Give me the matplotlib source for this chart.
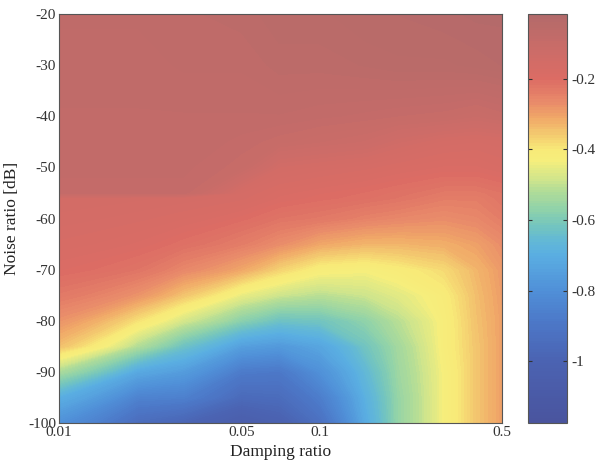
import numpy as np
import matplotlib
matplotlib.use("Agg")
import matplotlib.pyplot as plt
from matplotlib.colors import LinearSegmentedColormap

plt.rcParams['font.family'] = ['Liberation Serif', 'DejaVu Serif']
plt.rcParams['axes.unicode_minus'] = False

# damping ratio (x) and noise ratio in dB (y) sample grid
damping = [0.01, 0.02, 0.03, 0.05, 0.07, 0.1, 0.15, 0.2, 0.3, 0.4, 0.5]
noise_db = [-100, -95, -90, -85, -80, -75, -70, -65, -60, -56, -55, -50, -45, -40, -30, -20]

# one column per damping value, bottom (-100 dB) to top (-20 dB)
col_001 = [-0.80, -0.70, -0.53, -0.345, -0.28, -0.23, -0.195, -0.175, -0.16, -0.15, -0.09, -0.085, -0.08, -0.08, -0.075, -0.07]
col_002 = [-0.95, -0.85, -0.72, -0.52, -0.39, -0.28, -0.22, -0.19, -0.17, -0.155, -0.09, -0.085, -0.08, -0.08, -0.075, -0.07]
col_003 = [-0.99, -0.86, -0.76, -0.63, -0.48, -0.35, -0.26, -0.21, -0.18, -0.16, -0.09, -0.085, -0.08, -0.08, -0.07, -0.065]
col_005 = [-1.06, -0.96, -0.88, -0.75, -0.58, -0.45, -0.31, -0.24, -0.20, -0.17, -0.165, -0.10, -0.09, -0.08, -0.07, -0.06]
col_007 = [-1.02, -0.95, -0.89, -0.77, -0.63, -0.49, -0.37, -0.27, -0.22, -0.19, -0.185, -0.15, -0.10, -0.08, -0.06, -0.05]
col_010 = [-0.93, -0.87, -0.80, -0.73, -0.62, -0.51, -0.42, -0.31, -0.23, -0.20, -0.195, -0.16, -0.11, -0.085, -0.06, -0.05]
col_015 = [-0.71, -0.69, -0.66, -0.62, -0.57, -0.49, -0.43, -0.33, -0.25, -0.21, -0.205, -0.17, -0.12, -0.09, -0.055, -0.04]
col_020 = [-0.56, -0.56, -0.55, -0.54, -0.51, -0.46, -0.41, -0.33, -0.26, -0.22, -0.215, -0.18, -0.14, -0.095, -0.05, -0.04]
col_030 = [-0.43, -0.43, -0.43, -0.42, -0.42, -0.41, -0.38, -0.32, -0.27, -0.24, -0.23, -0.19, -0.16, -0.10, -0.05, -0.035]
col_040 = [-0.35, -0.35, -0.35, -0.35, -0.345, -0.34, -0.33, -0.30, -0.26, -0.24, -0.23, -0.19, -0.165, -0.11, -0.045, -0.03]
col_050 = [-0.30, -0.30, -0.30, -0.30, -0.30, -0.295, -0.29, -0.27, -0.24, -0.22, -0.22, -0.18, -0.16, -0.10, -0.04, -0.03]

cbar_ticks = [-1, -0.8, -0.6, -0.4, -0.2]
cbar_labels = ['-1', '-0.8', '-0.6', '-0.4', '-0.2']
x_ticks = [0.01, 0.05, 0.1, 0.5]
x_labels = ['0.01', '0.05', '0.1', '0.5']
y_ticks = [-100, -90, -80, -70, -60, -50, -40, -30, -20]

vmin, vmax = -1.175, -0.017

Z = np.array([col_001, col_002, col_003, col_005, col_007, col_010,
              col_015, col_020, col_030, col_040, col_050]).T
X, Y = np.meshgrid(damping, noise_db)

# muted blue-yellow-red map as it looks in the scan
anchors = [(-1.175, '#4a549e'), (-1.0, '#4b63b2'), (-0.89, '#4c78c8'),
           (-0.8, '#5090d8'), (-0.70, '#5aaee2'), (-0.66, '#62b8d6'),
           (-0.62, '#72c4c0'), (-0.57, '#90d2aa'), (-0.52, '#b0dc98'),
           (-0.48, '#d4e68a'), (-0.43, '#f6ee7c'), (-0.40, '#f8ea78'),
           (-0.36, '#f4cc70'), (-0.31, '#f0a868'), (-0.26, '#e8886a'),
           (-0.20, '#dc6c64'), (-0.12, '#cc6c68'), (-0.017, '#b26a6a')]
cmap = LinearSegmentedColormap.from_list(
    'scan', [((v - vmin) / (vmax - vmin), c) for v, c in anchors])

fig = plt.figure(figsize=(5.97, 4.72), dpi=100)
ax = fig.add_axes([59/597, 49/472, 443/597, 409/472])
cax = fig.add_axes([528/597, 49/472, 39/597, 409/472])

levels = np.linspace(vmin, vmax, 150)
cs = ax.contourf(X, Y, Z, levels=levels, cmap=cmap, vmin=vmin, vmax=vmax)
ax.set_xscale('log')
ax.set_xlim(0.01, 0.5)
ax.set_ylim(-100, -20)
ax.set_xticks(x_ticks)
ax.set_xticklabels(x_labels)
ax.xaxis.set_minor_locator(matplotlib.ticker.NullLocator())
ax.set_yticks(y_ticks)
ax.set_yticklabels([str(t) for t in y_ticks])
ax.tick_params(length=0, labelsize=11, pad=2, colors='#333333')
ax.set_xlabel('Damping ratio', fontsize=12.5, color='#222222', labelpad=4)
ax.set_ylabel('Noise ratio [dB]', fontsize=12.5, color='#222222', labelpad=6)
for s in ax.spines.values():
    s.set_color('#555555')
    s.set_linewidth(0.8)

cb = fig.colorbar(cs, cax=cax)
cb.set_ticks(cbar_ticks)
cb.set_ticklabels(cbar_labels)
cax.tick_params(direction='in', length=3, width=0.8, left=True, right=True,
                labelsize=11, colors='#333333', pad=3)
cb.outline.set_edgecolor('#555555')
cb.outline.set_linewidth(0.8)

fig.savefig('out.png', dpi=100)
